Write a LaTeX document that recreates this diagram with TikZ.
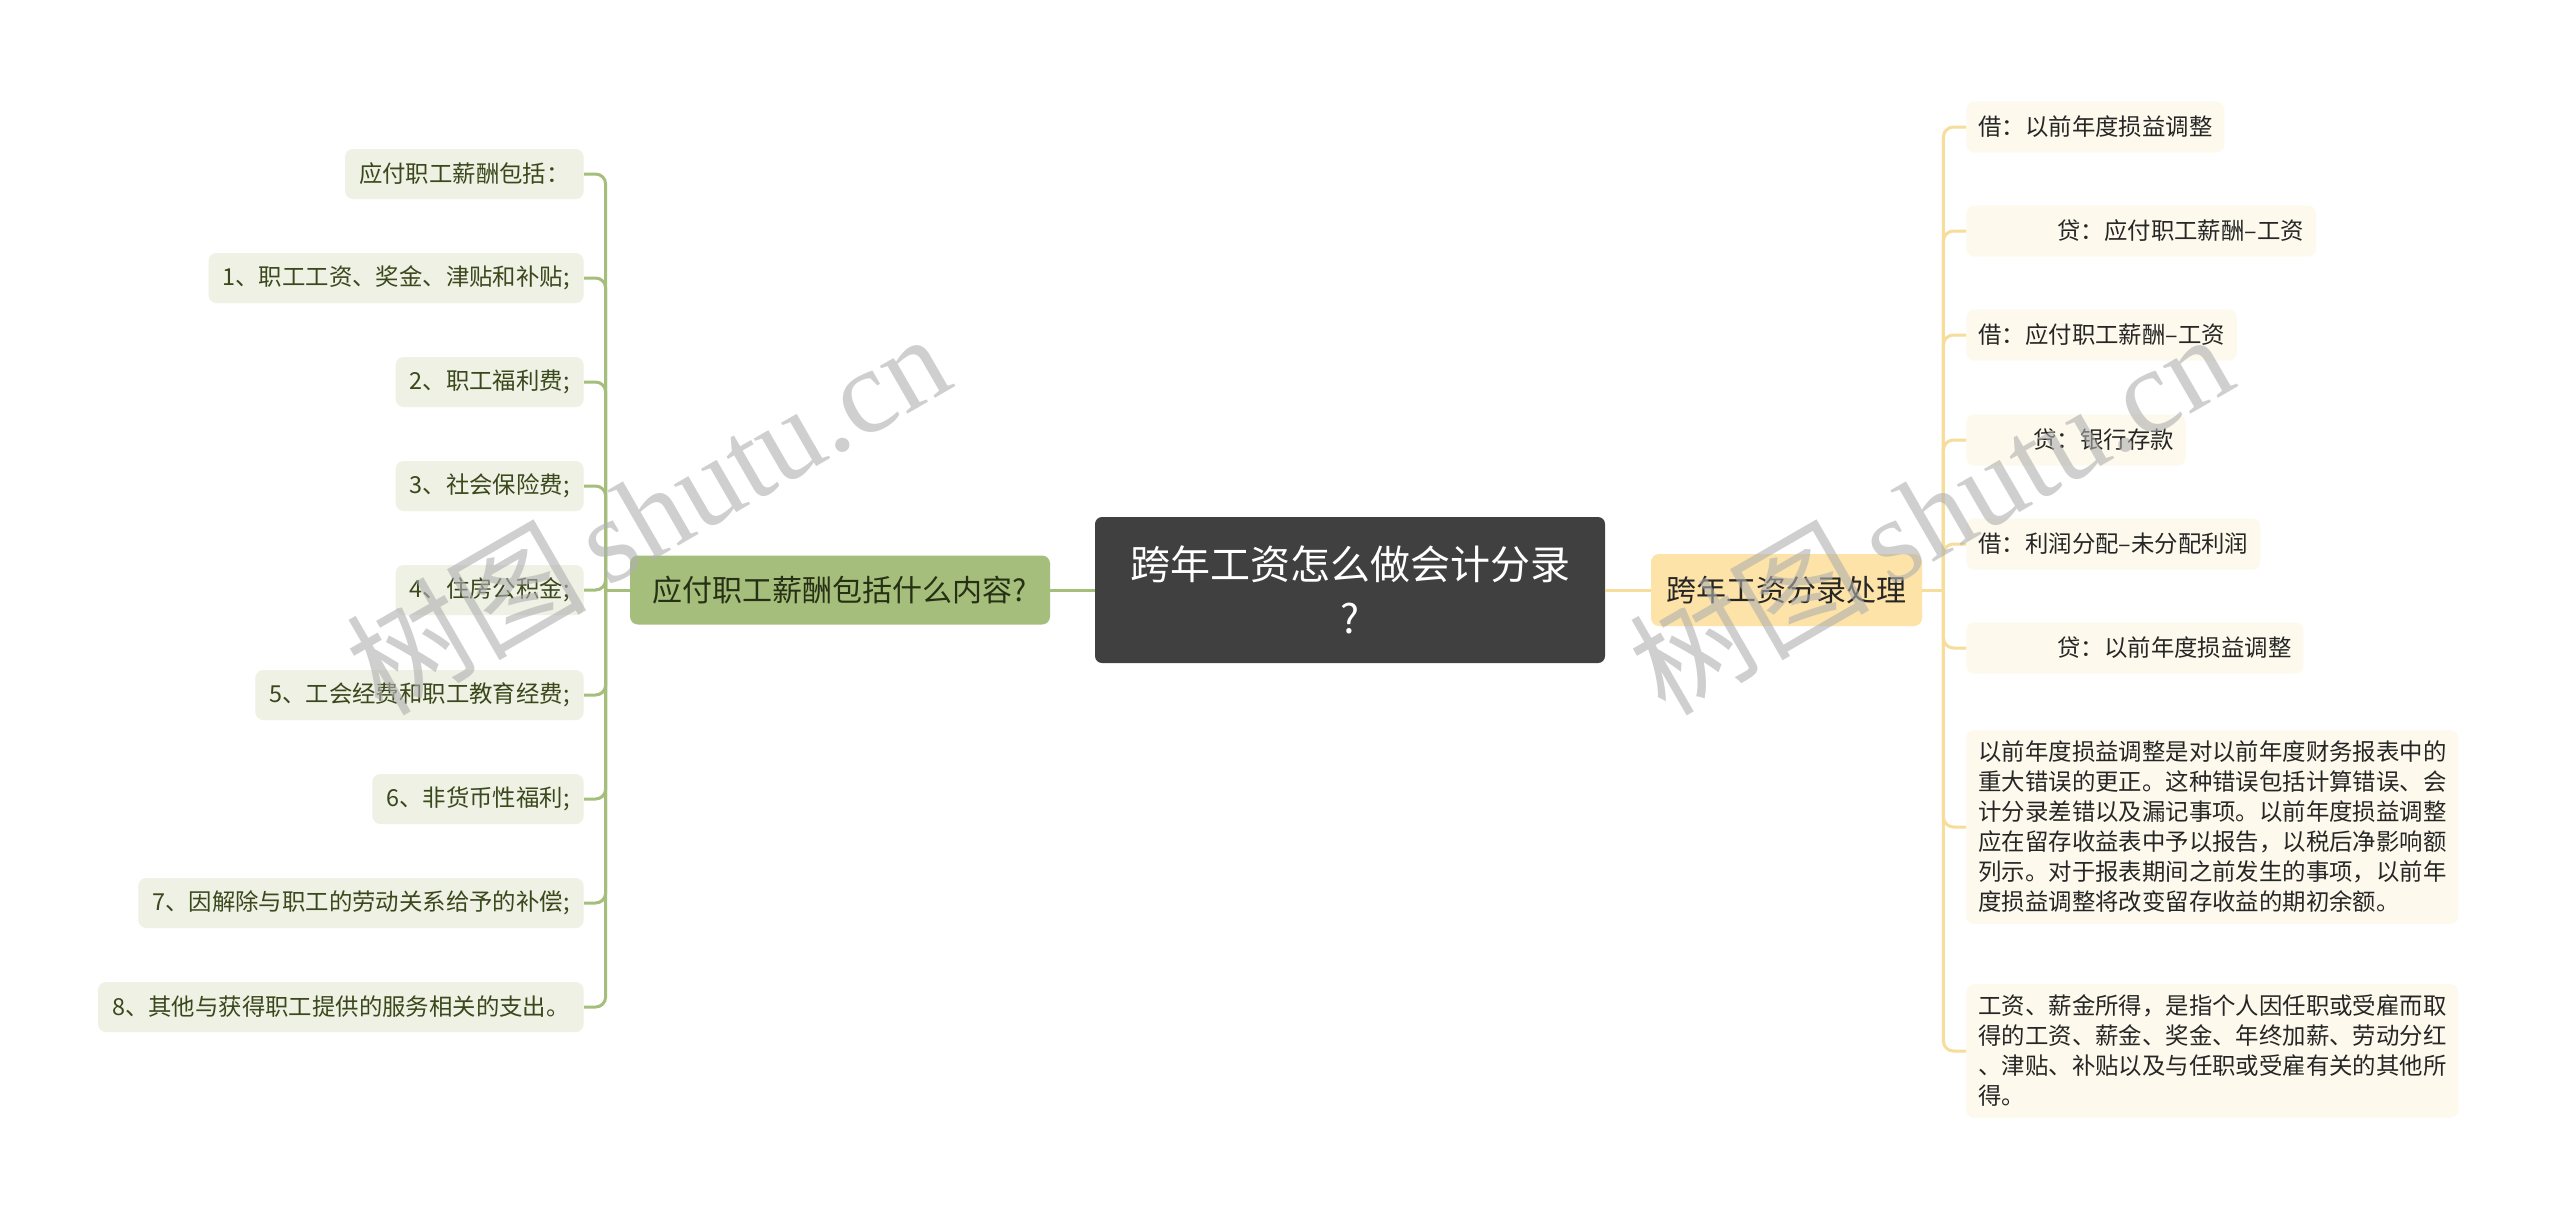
\documentclass[tikz,border=0pt]{standalone}
\usepackage{fontspec}
\setmainfont{Noto Sans CJK SC}
\newfontfamily\wmserif{Liberation Serif}
\newfontfamily\wmcjk{Noto Sans CJK SC}
\definecolor{cdark}{RGB}{64,64,64}
\definecolor{lgreen}{RGB}{166,190,124}
\definecolor{lmaintext}{RGB}{38,48,20}
\definecolor{lleaffill}{RGB}{238,241,228}
\definecolor{lleaftext}{RGB}{58,72,28}
\definecolor{ryellow}{RGB}{253,227,167}
\definecolor{rleaffill}{RGB}{253,249,236}
\definecolor{rline}{RGB}{246,221,156}
\definecolor{wmgray}{RGB}{175,175,175}
\tikzset{
  central/.style={fill=cdark, rounded corners=3.5pt, text=white, minimum width=255pt, minimum height=73pt, align=center, inner sep=0pt, font=\fontsize{20}{27}\selectfont},
  lmainbox/.style={fill=lgreen, rounded corners=4pt, text=lmaintext, minimum width=210pt, minimum height=34.5pt, inner sep=0pt, font=\fontsize{15}{18}\selectfont},
  rmainbox/.style={fill=ryellow, rounded corners=4pt, text=black!85, minimum width=135.5pt, minimum height=36pt, inner sep=0pt, font=\fontsize{15}{18}\selectfont},
  lleaf/.style={fill=lleaffill, rounded corners=4pt, text=lleaftext, anchor=east, minimum height=25pt, inner xsep=7pt, inner ysep=0pt, font=\fontsize{11.7}{14}\selectfont},
  rleaf/.style={fill=rleaffill, rounded corners=4pt, text=black!85, anchor=west, minimum height=25.5pt, inner xsep=6pt, inner ysep=0pt, font=\fontsize{11.7}{14}\selectfont},
  para/.style={rleaf, align=left, inner ysep=5.5pt, font=\fontsize{11.7}{15}\selectfont},
  lconn/.style={draw=lgreen, line width=1.5pt, rounded corners=5pt},
  rconn/.style={draw=rline, line width=1.5pt, rounded corners=5pt},
  wmark/.style={text=wmgray, opacity=0.6, rotate=30, inner sep=0pt}
}
\begin{document}
\begin{tikzpicture}[x=0.5pt,y=-0.5pt]
\path[use as bounding box, fill=white] (0,0) rectangle (2560,1226);

% main nodes
\node[central] (c) at (1350,590) {跨年工资怎么做会计分录\\?};
\node[lmainbox] (lm) at (840,590) {应付职工薪酬包括什么内容?};
\node[rmainbox] (rm) at (1786.5,590) {跨年工资分录处理};

% left leaves
\node[lleaf] (l1) at (584,174) {应付职工薪酬包括：};
\node[lleaf] (l2) at (584,278) {1、职工工资、奖金、津贴和补贴;};
\node[lleaf] (l3) at (584,382) {2、职工福利费;};
\node[lleaf] (l4) at (584,486) {3、社会保险费;};
\node[lleaf] (l5) at (584,590) {4、住房公积金;};
\node[lleaf] (l6) at (584,695) {5、工会经费和职工教育经费;};
\node[lleaf] (l7) at (584,799) {6、非货币性福利;};
\node[lleaf] (l8) at (584,903) {7、因解除与职工的劳动关系给予的补偿;};
\node[lleaf] (l9) at (584,1007) {8、其他与获得职工提供的服务相关的支出。};

% right leaves
\node[rleaf] (r1) at (1966,127) {借：以前年度损益调整};
\node[rleaf] (r2) at (1966,231) {\hspace*{39.5pt}贷：应付职工薪酬–工资};
\node[rleaf] (r3) at (1966,335) {借：应付职工薪酬–工资};
\node[rleaf] (r4) at (1966,440) {\hspace*{27.5pt}贷：银行存款};
\node[rleaf] (r5) at (1966,544) {借：利润分配–未分配利润};
\node[rleaf] (r6) at (1966,648) {\hspace*{39.5pt}贷：以前年度损益调整};
\node[para] (r7) at (1966,827) {以前年度损益调整是对以前年度财务报表中的\\重大错误的更正。这种错误包括计算错误、会\\计分录差错以及漏记事项。以前年度损益调整\\应在留存收益表中予以报告，以税后净影响额\\列示。对于报表期间之前发生的事项，以前年\\度损益调整将改变留存收益的期初余额。};
\node[para] (r8) at (1966,1051) {工资、薪金所得，是指个人因任职或受雇而取\\得的工资、薪金、奖金、年终加薪、劳动分红\\、津贴、补贴以及与任职或受雇有关的其他所\\得。};

% connectors
\draw[lconn] (c.west) -- (lm.east);
\draw[rconn] (c.east) -- (rm.west);
\coordinate (lj) at ([xshift=-12pt]lm.west);
\coordinate (rj) at ([xshift=10.5pt]rm.east);
\draw[lconn] (lm.west) -- (lj);
\draw[rconn] (rm.east) -- (rj);
\foreach \n in {l1,l2,l3,l4,l5,l6,l7,l8,l9}{
  \draw[lconn] (lj) |- (\n.east);
}
\foreach \n in {r1,r2,r3,r4,r5,r6,r7,r8}{
  \draw[rconn] (rj) |- (\n.west);
}

% watermarks
\node[wmark] (w1) at (647,512) {\fontsize{60}{60}\selectfont\wmcjk 树图\,\wmserif shutu.cn};
\node[wmark] (w2) at (1930,512) {\fontsize{60}{60}\selectfont\wmcjk 树图\,\wmserif shutu.cn};
\end{tikzpicture}
\end{document}
